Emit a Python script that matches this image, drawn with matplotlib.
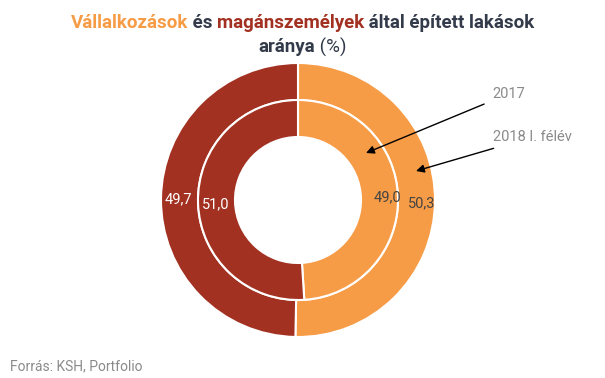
import matplotlib.pyplot as plt

plt.rcParams['font.family'] = ['Roboto', 'DejaVu Sans']

# values (%)
groups = ['Vállalkozások', 'magánszemélyek']
outer_2018 = [50.3, 49.7]   # 2018 I. félév
inner_2017 = [49.0, 51.0]   # 2017
outer_labels = ['50,3', '49,7']
inner_labels = ['49,0', '51,0']

orange = '#F79C46'
red = '#A23121'
dark = '#333B4A'
grey = '#8A8A8A'

W, H = 605, 378
fig = plt.figure(figsize=(W / 100, H / 100), dpi=100)
ax = fig.add_axes([0, 0, 1, 1])

cx, cy = 298, H - 200
r_out, r_in, r_hole = 137, 100, 63

ax.pie(outer_2018, radius=r_out, center=(cx, cy), startangle=90, counterclock=False,
       colors=[orange, red], wedgeprops=dict(width=r_out - r_in, edgecolor='white', linewidth=1.5),
       labels=outer_labels, labeldistance=(r_out + r_in) / 2 / r_out,
       textprops=dict(fontsize=10.5), frame=True)
ax.pie(inner_2017, radius=r_in, center=(cx, cy), startangle=90, counterclock=False,
       colors=[orange, red], wedgeprops=dict(width=r_in - r_hole, edgecolor='white', linewidth=1.5),
       labels=inner_labels, labeldistance=(r_in + r_hole) / 2 / r_in,
       textprops=dict(fontsize=10.5), frame=True)
ax.set_xlim(0, W)
ax.set_ylim(0, H)
ax.set_aspect('equal')
ax.axis('off')

# nudges to match label placement
shift = {'50,3': (5, -2), '49,0': (8, 0), '49,7': (-1, 0), '51,0': (-1, -2)}
for t in ax.texts:
    s = t.get_text()
    t.set_color('white' if s in ('49,7', '51,0') else '#444444')
    t.set_ha('center')
    t.set_va('center')
    x0, y0 = t.get_position()
    dx, dy = shift[s]
    t.set_position((x0 + dx, y0 + dy))

# title, multi-coloured first line
parts = [('Vállalkozások', orange, 'bold'), (' és ', dark, 'bold'),
         ('magánszemélyek', red, 'bold'), (' által épített lakások', dark, 'bold')]
fig.canvas.draw()
renderer = fig.canvas.get_renderer()
texts = []
for s, c, w in parts:
    t = ax.text(0, H - 23, s, color=c, fontweight=w, fontsize=13.5, va='center', ha='left')
    texts.append(t)
widths = [t.get_window_extent(renderer).width for t in texts]
x = W / 2 - sum(widths) / 2
for t, w in zip(texts, widths):
    t.set_x(x)
    x += w

t1 = ax.text(0, H - 47, 'aránya', color=dark, fontweight='bold', fontsize=13.5, va='center')
t2 = ax.text(0, H - 47, ' (%)', color=dark, fontsize=13.5, va='center')
w1 = t1.get_window_extent(renderer).width
w2 = t2.get_window_extent(renderer).width
x = W / 2 - (w1 + w2) / 2
t1.set_x(x)
t2.set_x(x + w1)

# annotations
ax.annotate('2017', xy=(366, H - 153), xytext=(492, H - 94), color=grey, fontsize=10.5,
            va='center', ha='left',
            arrowprops=dict(arrowstyle='-|>', color='black', lw=1, shrinkA=4, shrinkB=0,
                            mutation_scale=12))
ax.annotate('2018 I. félév', xy=(416, H - 171), xytext=(493, H - 137), color=grey, fontsize=10.5,
            va='center', ha='left',
            arrowprops=dict(arrowstyle='-|>', color='black', lw=1, shrinkA=4, shrinkB=0,
                            mutation_scale=12))

ax.text(10, H - 366, 'Forrás: KSH, Portfolio', color=grey, fontsize=10, va='center', ha='left')

fig.savefig('out.png', dpi=100)
